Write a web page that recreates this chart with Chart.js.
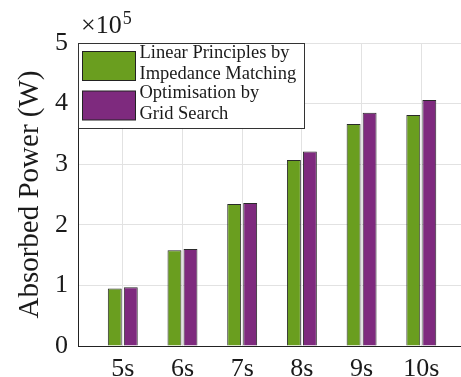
<!DOCTYPE html>
<html>
<head>
<meta charset="utf-8">
<script src="https://cdn.jsdelivr.net/npm/chart.js@4"></script>
<style>
  body { margin: 0; background: #fff; overflow: hidden; }
  canvas { display: block; }
</style>
</head>
<body>
<canvas id="powerChart" width="461" height="377"></canvas>
<script>
// Data (W)
const categories = ['5s', '6s', '7s', '8s', '9s', '10s'];
const linearPower = [95000, 158000, 234500, 307000, 366500, 381000];
const gridPower = [97000, 160000, 236000, 321000, 385000, 406000];
const seriesLabels = [
  ['Linear Principles by', 'Impedance Matching'],
  ['Optimisation by', 'Grid Search']
];
const yScaleExp = 5;

const FONT = "'Liberation Serif', 'DejaVu Serif', serif";
const colors = ['#6a9e1f', '#7e2a7e'];

// legend box + x10^5 exponent, drawn by hand (two-line labels)
const matlabLegend = {
  id: 'matlabLegend',
  afterDraw(chart) {
    const ctx = chart.ctx;
    const a = chart.chartArea;
    ctx.save();
    // exponent label
    ctx.fillStyle = '#1a1a1a';
    ctx.textBaseline = 'alphabetic';
    ctx.font = '26px ' + FONT;
    ctx.fillText('\u00d710', a.left + 3, 33);
    const w = ctx.measureText('\u00d710').width;
    ctx.font = '18px ' + FONT;
    ctx.fillText(String(yScaleExp), a.left + 4 + w, 24);

    // box
    const bx = a.left + 0.5, by = a.top + 0.5;
    ctx.fillStyle = '#fff';
    ctx.strokeStyle = '#333';
    ctx.lineWidth = 1;
    ctx.fillRect(bx, by, 226, 85);
    ctx.strokeRect(bx, by, 226, 85);

    ctx.font = '18.5px ' + FONT;
    seriesLabels.forEach((lines, i) => {
      const sy = by + 8 + i * 39.5;
      ctx.fillStyle = colors[i];
      ctx.fillRect(bx + 4, sy, 53, 29);
      ctx.strokeStyle = '#222';
      ctx.strokeRect(bx + 4, sy, 53, 29);
      ctx.fillStyle = '#1a1a1a';
      lines.forEach((t, j) => {
        ctx.fillText(t, bx + 61, by + 14.5 + i * 40 + j * 20.5);
      });
    });
    ctx.restore();
  }
};

const ctx = document.getElementById('powerChart').getContext('2d');
new Chart(ctx, {
  type: 'bar',
  data: {
    datasets: [
      {
        label: seriesLabels[0].join(' '),
        data: linearPower.map((v, i) => ({ x: i + 1, y: v })),
        backgroundColor: colors[0],
        borderColor: '#2a2a2a',
        borderWidth: 1
      },
      {
        label: seriesLabels[1].join(' '),
        data: gridPower.map((v, i) => ({ x: i + 1, y: v })),
        backgroundColor: colors[1],
        borderColor: '#2a2a2a',
        borderWidth: 1
      }
    ]
  },
  options: {
    responsive: false,
    animation: false,
    categoryPercentage: 0.536,
    barPercentage: 0.87,
    layout: { padding: { top: 43, right: 0, left: 0, bottom: 0 } },
    plugins: {
      legend: { display: false },
      tooltip: { enabled: false }
    },
    scales: {
      x: {
        type: 'linear',
        min: 0.25,
        max: 6.665,
        offset: false,
        afterBuildTicks: s => { s.ticks = categories.map((c, i) => ({ value: i + 1 })); },
        afterFit: s => { s.height = 31; },
        grid: { color: '#e2e2e2', drawTicks: false, offset: false },
        border: { color: '#222', width: 1 },
        ticks: {
          padding: 8,
          color: '#1a1a1a',
          font: { family: FONT, size: 26 },
          maxRotation: 0,
          callback: v => categories[v - 1]
        }
      },
      y: {
        min: 0,
        max: 5 * Math.pow(10, yScaleExp),
        afterFit: s => { s.width = 78; },
        grid: { color: '#e2e2e2', drawTicks: false },
        border: { color: '#222', width: 1 },
        ticks: {
          stepSize: Math.pow(10, yScaleExp),
          padding: 10,
          color: '#1a1a1a',
          font: { family: FONT, size: 26 },
          callback: v => String(v / Math.pow(10, yScaleExp))
        },
        title: {
          display: true,
          text: 'Absorbed Power (W)',
          color: '#1a1a1a',
          font: { family: FONT, size: 29 },
          padding: { top: 13, bottom: 0 }
        }
      }
    }
  },
  plugins: [matlabLegend]
});
</script>
</body>
</html>
